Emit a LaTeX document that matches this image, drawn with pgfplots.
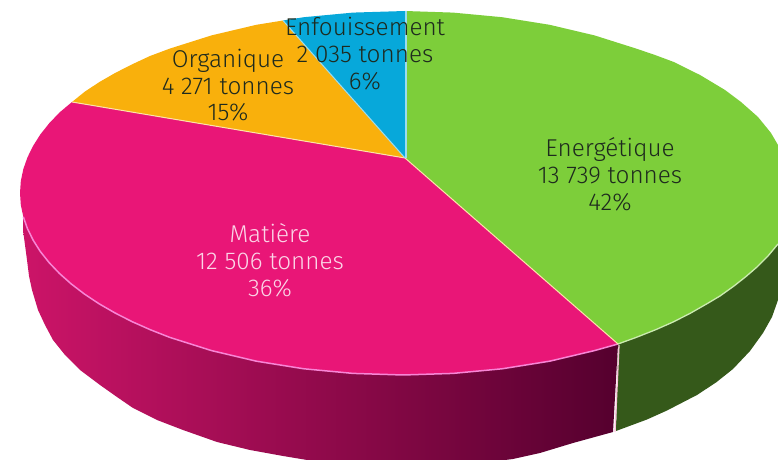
\documentclass[border=0pt]{standalone}
\usepackage{pgfplots}
\pgfplotsset{compat=1.18}
\usepackage{fontspec}
\setmainfont{Fira Sans Light}
\definecolor{cgreen}{HTML}{7DCE3A}
\definecolor{cpink}{HTML}{E91677}
\definecolor{corange}{HTML}{F9B00C}
\definecolor{cblue}{HTML}{07A8DA}
\definecolor{cdgreen}{HTML}{35591A}
\definecolor{cside1}{HTML}{CC1468}
\definecolor{cside2}{HTML}{9A0E50}
\definecolor{cside3}{HTML}{55002E}
\definecolor{ctxt}{HTML}{1E2A1E}
\newcommand{\gap}{\hspace{0.28em}}
\tikzset{
  lab/.style={font=\fontsize{24.4}{27}\selectfont, anchor=base, text=ctxt, inner sep=0pt},
  wlab/.style={lab, text=white!82!cpink},
}
\begin{document}
\begin{tikzpicture}
\begin{axis}[
  scale only axis, width=778bp, height=460bp,
  xmin=0, xmax=778, ymin=0, ymax=460, y dir=reverse,
  axis line style={draw=none}, ticks=none,
  clip mode=individual,
]
% side walls
\addplot[draw=none, left color=cside1, middle color=cside2, right color=cside3] coordinates {
 (618,344) (594.5,350.6) (549.6,361.2) (502.1,368.8) (453,373.4) (403,375) (353,373.4) (303.9,368.8) (256.4,361.2)
 (211.5,350.6) (169.8,337.4) (150.5,329.8) (132.2,321.7) (115.1,313) (99.1,303.8) (84.5,294.1) (71.3,284) (59.5,273.5)
 (49.2,262.7) (40.3,251.5) (33.1,240.1) (27.4,228.5) (23.3,216.8)
 (23,230) (25,245) (27,260) (29,276) (32,290) (38,310) (45,325) (53,340) (65,355) (80,370) (100,385) (117,397)
 (133,408) (157,420) (183,430) (217,442) (250,450) (283,456) (313,461) (350,466) (400,468) (450,466) (490,462)
 (513,459) (540,453) (573,443) (613,432)
} -- cycle;
\addplot[draw=none, fill=cdgreen] coordinates {
 (618,344) (636.2,337.4) (655.5,329.8) (673.8,321.7) (690.8,313) (706.9,303.8) (720,296) (734,286) (746,276.5) (757,267)
 (768,256) (778,244) (790,225)
 (790,270) (778,300) (772,317) (763,333) (750,351) (733,369) (716,382.5) (697,395) (667,410.5) (647,419.5) (616,431)
} -- cycle;
% top slices
\addplot[draw=none, fill=cgreen] coordinates {
 (405,158) (405,11) (453,12.6) (502.1,17.2) (549.6,24.8) (594.5,35.4) (636.2,48.6) (655,55) (673.8,62) (700,75)
 (725,90) (741,102) (758,117) (771,133) (778,145) (790,175) (795,200) (790,225) (778,244) (768,256) (757,267)
 (746,276.5) (734,286) (720,296) (706.9,303.8) (690.8,313) (673.8,321.7) (655.5,329.8) (636.2,337.4) (618,344)
} -- cycle;
\addplot[draw=none, fill=cpink] coordinates {
 (405,158) (618,344) (594.5,350.6) (549.6,361.2) (502.1,368.8) (453,373.4) (403,375) (353,373.4) (303.9,368.8)
 (256.4,361.2) (211.5,350.6) (169.8,337.4) (150.5,329.8) (132.2,321.7) (115.1,313) (99.1,303.8) (84.5,294.1) (71.3,284)
 (59.5,273.5) (49.2,262.7) (40.3,251.5) (33.1,240.1) (27.4,228.5) (23.3,216.8) (20.8,204.9)
 (20,193) (20.8,181.1) (23.3,169.2) (27.4,157.5) (33.1,145.9) (40.3,134.5) (49.2,123.3) (59.5,112.5) (72,102)
} -- cycle;
\addplot[draw=none, fill=corange] coordinates {
 (405,158) (72,102) (84.5,91.9) (99.1,82.2) (115.1,73) (132.2,64.3) (150,56) (169.8,48.6) (211.5,35.4) (256.4,24.8) (283,20.5)
} -- cycle;
\addplot[draw=none, fill=cblue] coordinates {
 (405,158) (283,20.5) (303.9,17.2) (353,12.6) (405,11)
} -- cycle;
% separators
\addplot[line width=1.5bp, color=white!62!cpink!80!magenta] coordinates {
 (618,344) (594.5,350.6) (549.6,361.2) (502.1,368.8) (453,373.4) (403,375) (353,373.4) (303.9,368.8) (256.4,361.2)
 (211.5,350.6) (169.8,337.4) (150.5,329.8) (132.2,321.7) (115.1,313) (99.1,303.8) (84.5,294.1) (71.3,284) (59.5,273.5)
 (49.2,262.7) (40.3,251.5) (33.1,240.1) (27.4,228.5) (23.3,216.8)
};
\addplot[line width=1.3bp, color=white!60!cgreen] coordinates {
 (618,344) (636.2,337.4) (655.5,329.8) (673.8,321.7) (690.8,313) (706.9,303.8) (720,296) (734,286) (746,276.5) (757,267)
 (768,256) (778,244)
};
\addplot[line width=1.3bp, color=white!75!cpink] coordinates {(619,345) (615,432)};
\addplot[line width=1bp, color=white!65!corange] coordinates {(72,102) (405,158)};
\addplot[line width=1bp, color=white!65!corange] coordinates {(405,158) (618,344)};
\addplot[line width=1bp, color=white!60!cblue] coordinates {(283,20.5) (405,158)};
\addplot[line width=2bp, color=white!60!cblue] coordinates {(406,11) (406,158)};
% labels
\node[lab] at (axis cs:365,36) {Enfouissement};
\node[lab] at (axis cs:365,63) {2\gap035 tonnes};
\node[lab] at (axis cs:365,90) {6\%};
\node[lab] at (axis cs:228,68) {Organique};
\node[lab] at (axis cs:228,95) {4\gap271 tonnes};
\node[lab] at (axis cs:228,121) {15\%};
\node[lab] at (axis cs:610,157) {Energétique};
\node[lab] at (axis cs:610,184) {13\gap739 tonnes};
\node[lab] at (axis cs:610,211) {42\%};
\node[wlab] at (axis cs:270,243) {Matière};
\node[wlab] at (axis cs:270,270) {12\gap506 tonnes};
\node[wlab] at (axis cs:270,297) {36\%};
\end{axis}
\end{tikzpicture}
\end{document}
